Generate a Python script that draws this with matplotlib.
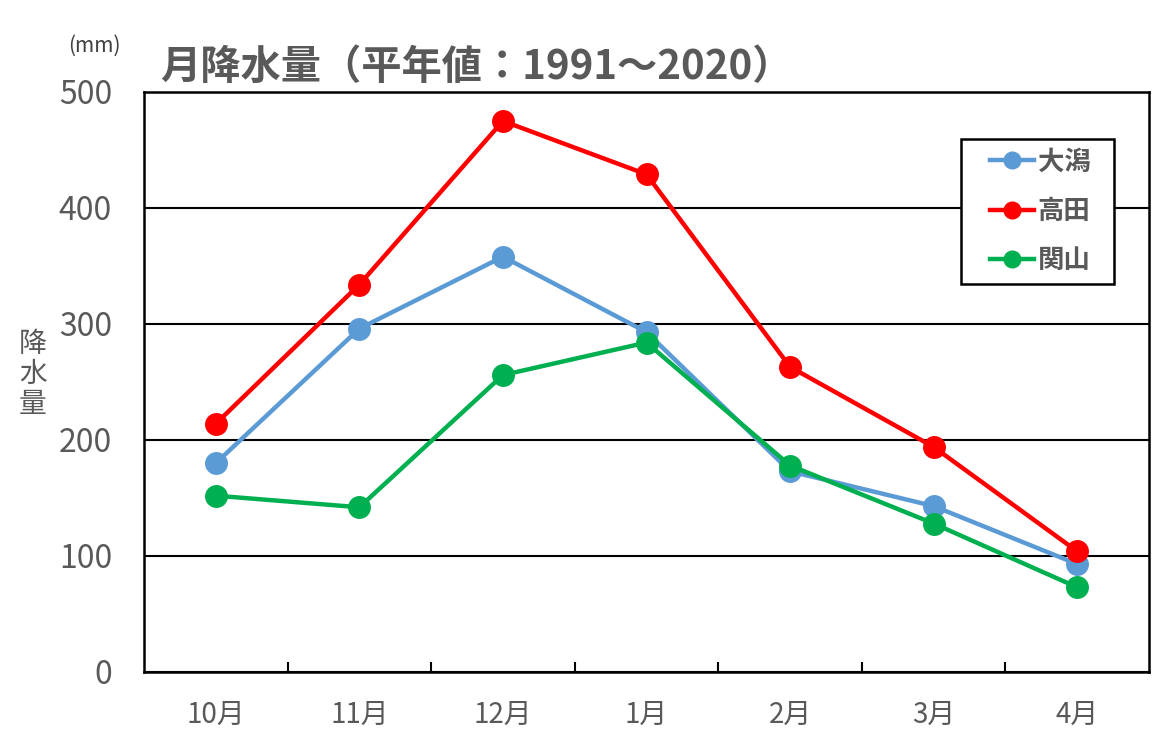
import matplotlib
matplotlib.use("Agg")
import matplotlib.pyplot as plt
from matplotlib.ticker import FixedLocator
from matplotlib.patches import Rectangle

plt.rcParams['font.family'] = ['Noto Sans CJK JP', 'DejaVu Sans']

months = ['10月', '11月', '12月', '1月', '2月', '3月', '4月']
ogata = [180, 296, 358, 293, 173, 143, 93]
takada = [214, 334, 475, 429, 263, 194, 104]
sekiyama = [152, 142, 256, 284, 178, 128, 73]
series_names = ['大潟', '高田', '関山']
colors = ['#5B9BD5', '#FF0000', '#00B050']
yticks = [0, 100, 200, 300, 400, 500]

fig = plt.figure(figsize=(11.72, 7.45), dpi=100)
ax = fig.add_axes([144/1172, 73/745, (1149-144)/1172, (672-92)/745])

x = list(range(len(months)))
for vals, name, c in zip([ogata, takada, sekiyama], series_names, colors):
    ax.plot(x, vals, color=c, lw=3.2, marker='o', markersize=15.5, label=name, zorder=3)

ax.set_xlim(-0.5, len(months) - 0.5)
ax.set_ylim(0, 500)
ax.set_yticks(yticks)
ax.yaxis.grid(True, color='black', lw=1.5, zorder=1)
ax.set_axisbelow(True)
ax.set_xticks(x)
ax.set_xticklabels(months, fontsize=20, color='#595959')
ax.xaxis.set_minor_locator(FixedLocator([i + 0.5 for i in range(len(months) - 1)]))
ax.tick_params(axis='x', which='major', length=0, pad=20)
ax.tick_params(axis='x', which='minor', length=7, width=1.5, direction='in', color='black')
ax.tick_params(axis='y', length=0, labelsize=23, labelcolor='#595959', pad=23)
for s in ax.spines.values():
    s.set_linewidth(1.8)
    s.set_color('black')

fig.text(19/1172, 1 - 374/745, '降\n水\n量', fontsize=20, color='#595959',
         ha='left', va='center', linespacing=1.0)
fig.text(68/1172, 1 - 46/745, '(mm)', fontsize=15, color='#404040', ha='left', va='center')
fig.text(160/1172, 1 - 67/745, '月降水量（平年値：1991～2020）', fontsize=29, fontweight='bold',
         color='#595959', ha='left', va='center')

# legend frame (box) and legend content
bx0, bx1 = (961-144)/1005, (1114-144)/1005
by0, by1 = (672-284)/580, (672-139)/580
ax.add_patch(Rectangle((bx0, by0), bx1-bx0, by1-by0, transform=ax.transAxes,
                       facecolor='white', edgecolor='black', lw=1.8, zorder=4))
leg = ax.legend(loc='center', bbox_to_anchor=((bx0+bx1)/2 + 0.003, (by0+by1)/2),
                frameon=False, fontsize=19,
                handlelength=1.65, handletextpad=0.15, labelspacing=0.85,
                borderpad=0.0, borderaxespad=0)
leg.set_zorder(5)
for t in leg.get_texts():
    t.set_color('#595959')
    t.set_fontweight('bold')
for h in leg.legend_handles:
    h.set_markersize(12)

fig.savefig('out.png', dpi=100, facecolor='white')
